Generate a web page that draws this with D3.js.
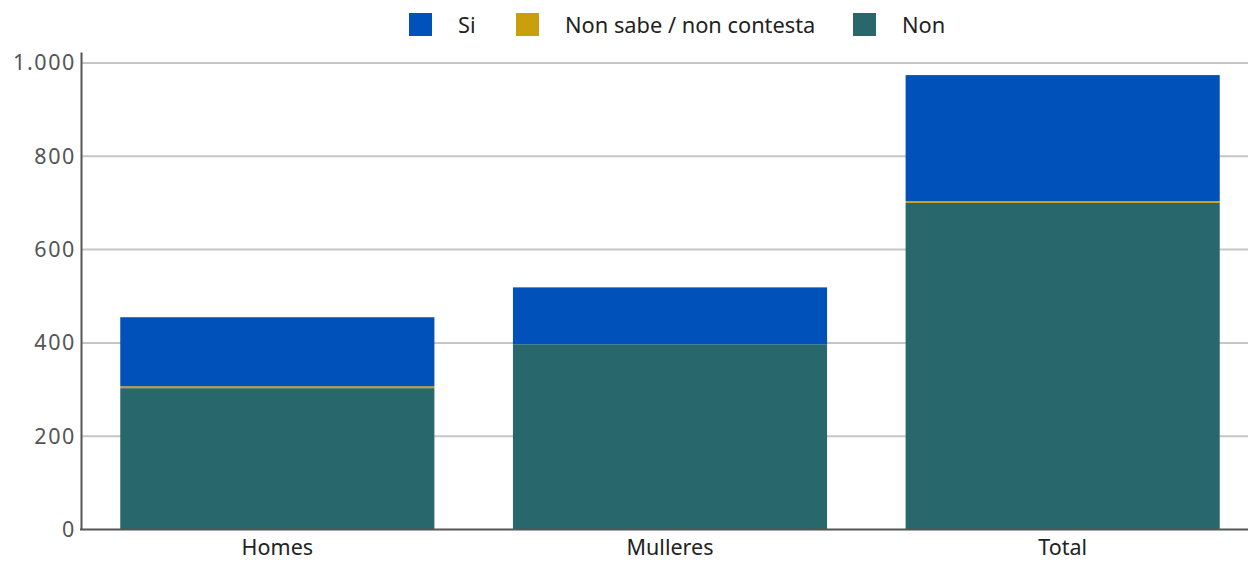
<!DOCTYPE html>
<html>
<head>
<meta charset="utf-8">
<script src="https://cdn.jsdelivr.net/npm/d3@7"></script>
<style>
  html, body { margin: 0; padding: 0; background: #fff; }
  svg { display: block; font-family: "Noto Sans", "Open Sans", sans-serif; }
</style>
</head>
<body>
<svg id="chart" width="1248" height="561"></svg>
<script>
const categories = ["Homes", "Mulleres", "Total"];
const seriesNames = ["Non", "Non sabe / non contesta", "Si"];
const nonValues = [303, 397, 700];
const nsncValues = [4, 0, 4];
const siValues = [148, 122, 270];
const yTicks = [0, 200, 400, 600, 800, 1000];
const legendOrder = ["Si", "Non sabe / non contesta", "Non"];
const colors = { "Si": "#0051b9", "Non sabe / non contesta": "#c9a00b", "Non": "#28686c" };

const svg = d3.select("#chart");
const W = 1248, H = 561;
const left = 81, base = 529.5;

const y = d3.scaleLinear().domain([0, 1023.5]).range([base, 52]);
const x = d3.scaleBand().domain(categories).range([left, 1259]).paddingInner(0.2).paddingOuter(0.1);

const rows = categories.map((c, i) => ({
  cat: c,
  "Non": nonValues[i],
  "Non sabe / non contesta": nsncValues[i],
  "Si": siValues[i]
}));
const stacked = d3.stack().keys(seriesNames)(rows);

// gridlines
svg.append("g").selectAll("line").data(yTicks.filter(d => d > 0)).join("line")
  .attr("x1", left).attr("x2", W)
  .attr("y1", d => y(d)).attr("y2", d => y(d))
  .attr("stroke", "#c6c6c6").attr("stroke-width", 2);

// bars
svg.append("g").selectAll("g").data(stacked).join("g")
  .attr("fill", d => colors[d.key])
  .selectAll("rect").data(d => d).join("rect")
  .attr("x", d => x(d.data.cat))
  .attr("width", x.bandwidth())
  .attr("y", d => y(d[1]))
  .attr("height", d => y(d[0]) - y(d[1]));

// y axis
const fmt = d3.formatLocale({ decimal: ",", thousands: ".", grouping: [3], currency: ["", "€"] }).format(",");
const yAxis = svg.append("g").attr("transform", `translate(${left},0)`)
  .call(d3.axisLeft(y).tickValues(yTicks).tickFormat(fmt).tickSize(0).tickPadding(5));
yAxis.select(".domain").attr("stroke", "#555").attr("stroke-width", 2);
yAxis.selectAll("text").attr("font-size", 21.5).attr("letter-spacing", "1.6px")
  .attr("fill", "#555").attr("font-family", "Noto Sans, sans-serif");

// x axis
const xAxis = svg.append("g").attr("transform", `translate(0,${base})`)
  .call(d3.axisBottom(x).tickSize(0).tickPadding(10));
xAxis.select(".domain").remove();
xAxis.append("line").attr("x1", left - 1).attr("x2", W).attr("y1", 0).attr("y2", 0)
  .attr("stroke", "#555").attr("stroke-width", 2);
xAxis.selectAll("text").attr("font-size", 21.5).attr("fill", "#222").attr("font-family", "Noto Sans, sans-serif");

// legend
const legendX = [409, 516, 853];
const lg = svg.append("g").selectAll("g").data(legendOrder).join("g")
  .attr("transform", (d, i) => `translate(${legendX[i]},13)`);
lg.append("rect").attr("width", 23).attr("height", 23).attr("fill", d => colors[d]);
lg.append("text").attr("x", 49).attr("y", 12).attr("dy", "0.35em")
  .attr("font-size", 21.8).attr("fill", "#222").text(d => d);
</script>
</body>
</html>
